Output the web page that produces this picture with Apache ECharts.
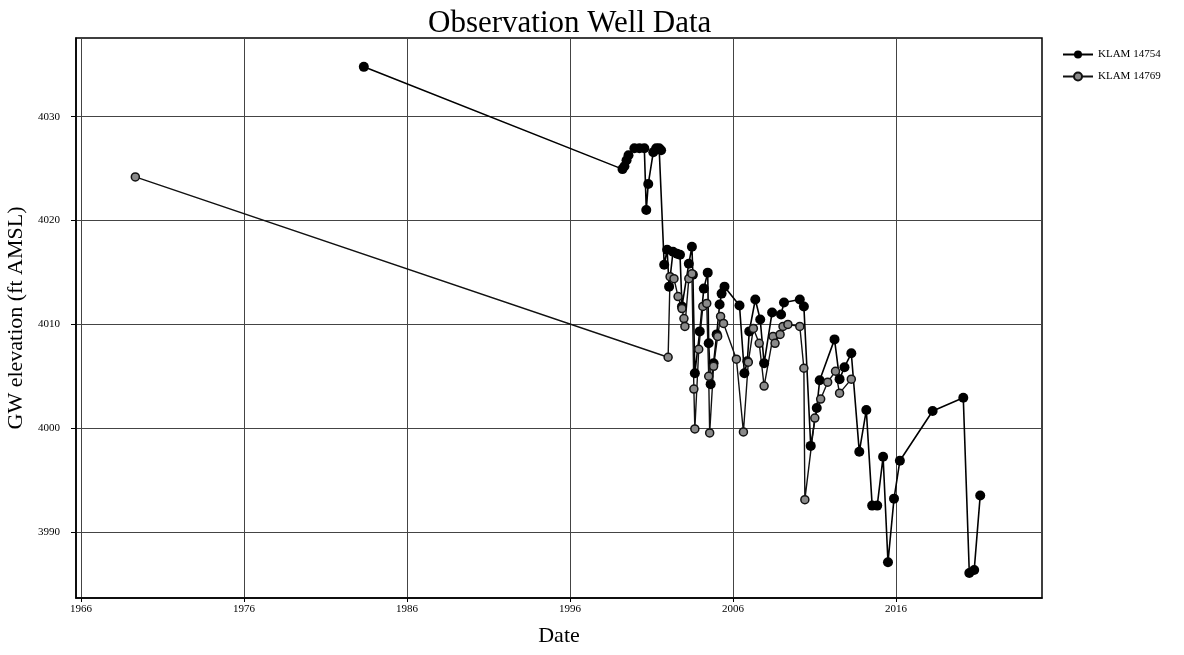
<!DOCTYPE html>
<html>
<head>
<meta charset="utf-8">
<script src="https://cdn.jsdelivr.net/npm/echarts@6/dist/echarts.min.js"></script>
<style>
  html, body { margin: 0; padding: 0; background: #fff; }
  #chart { width: 1184px; height: 655px; }
</style>
</head>
<body>
<div id="chart"></div>
<script>
// decimal year, GW elevation (ft AMSL)
var KLAM_14754 = [
  [1983.35, 4034.8], [1999.22, 4024.95], [1999.34, 4025.23], [1999.47, 4025.81],
  [1999.59, 4026.29], [1999.95, 4026.96], [2000.26, 4026.96], [2000.56, 4026.96],
  [2000.68, 4021.02], [2000.80, 4023.51], [2001.11, 4026.58], [2001.29, 4026.96],
  [2001.47, 4026.96], [2001.59, 4026.77], [2001.78, 4015.74], [2001.96, 4017.18],
  [2002.08, 4013.63], [2002.32, 4016.99], [2002.57, 4016.80], [2002.75, 4016.70],
  [2002.87, 4011.72], [2003.29, 4015.84], [2003.48, 4017.47], [2003.54, 4014.78],
  [2003.66, 4005.29], [2003.96, 4009.32], [2004.21, 4013.44], [2004.45, 4014.98],
  [2004.51, 4008.17], [2004.63, 4004.24], [2004.81, 4006.25], [2005.00, 4009.03],
  [2005.18, 4011.91], [2005.30, 4012.96], [2005.48, 4013.63], [2006.40, 4011.81],
  [2006.70, 4005.29], [2006.88, 4006.44], [2007.00, 4009.32], [2007.37, 4012.39],
  [2007.67, 4010.47], [2007.91, 4006.25], [2008.40, 4011.14], [2008.95, 4010.95],
  [2009.13, 4012.10], [2010.10, 4012.39], [2010.35, 4011.72], [2010.77, 3998.29],
  [2011.14, 4001.94], [2011.32, 4004.62], [2012.23, 4008.55], [2012.54, 4004.72],
  [2012.84, 4005.87], [2013.26, 4007.21], [2013.75, 3997.72], [2014.18, 4001.74],
  [2014.54, 3992.54], [2014.85, 3992.54], [2015.21, 3997.24], [2015.51, 3987.08],
  [2015.88, 3993.21], [2016.24, 3996.86], [2018.25, 4001.65], [2020.13, 4002.92],
  [2020.50, 3986.05], [2020.80, 3986.33], [2021.17, 3993.52]
];

var KLAM_14769 = [
  [1969.33, 4024.2], [2002.02, 4006.83], [2002.14, 4014.59], [2002.38, 4014.40],
  [2002.63, 4012.67], [2002.87, 4011.52], [2002.99, 4010.56], [2003.05, 4009.80],
  [2003.29, 4014.40], [2003.48, 4014.88], [2003.60, 4003.76], [2003.66, 3999.92],
  [2003.90, 4007.60], [2004.15, 4011.72], [2004.39, 4012.01], [2004.51, 4005.00],
  [2004.57, 3999.54], [2004.81, 4005.96], [2005.06, 4008.84], [2005.24, 4010.76],
  [2005.42, 4010.09], [2006.21, 4006.64], [2006.64, 3999.64], [2006.94, 4006.35],
  [2007.25, 4009.61], [2007.61, 4008.17], [2007.91, 4004.05], [2008.46, 4008.84],
  [2008.58, 4008.17], [2008.89, 4009.03], [2009.07, 4009.80], [2009.37, 4009.99],
  [2010.10, 4009.80], [2010.35, 4005.77], [2010.41, 3993.11], [2011.02, 4000.97],
  [2011.38, 4002.80], [2011.81, 4004.43], [2012.29, 4005.48], [2012.54, 4003.37],
  [2013.26, 4004.72]
];

var xTicks = [1966, 1976, 1986, 1996, 2006, 2016];
var yTicks = [3990, 4000, 4010, 4020, 4030];

var FONT = '"Liberation Serif", "DejaVu Serif", serif';

var chart = echarts.init(document.getElementById('chart'));
chart.setOption({
  backgroundColor: '#fff',
  animation: false,
  title: {
    text: 'Observation Well Data',
    left: 423,
    top: 3,
    textStyle: { fontFamily: FONT, fontSize: 31, fontWeight: 'normal', color: '#000' }
  },
  legend: {
    orient: 'vertical',
    left: 1057,
    top: 44,
    itemGap: 11,
    itemWidth: 30,
    itemHeight: 10,
    textStyle: { fontFamily: FONT, fontSize: 11, color: '#000' },
    data: ['KLAM 14754', 'KLAM 14769']
  },
  grid: {
    left: 76, right: 142, top: 38, bottom: 57,
    outerBoundsMode: 'none',
    show: true, borderColor: '#000', borderWidth: 1.5
  },
  xAxis: {
    type: 'value',
    min: 1965.69,
    max: 2024.96,
    name: 'Date',
    nameLocation: 'middle',
    nameGap: 27,
    nameTextStyle: { fontFamily: FONT, fontSize: 22, color: '#000' },
    axisLine: { lineStyle: { color: '#000', width: 1.5 } },
    axisTick: { customValues: xTicks, length: 4, lineStyle: { color: '#000' } },
    axisLabel: {
      customValues: xTicks, fontFamily: FONT, fontSize: 11, color: '#000', margin: 6,
      formatter: function (v) { return String(v); }
    },
    splitLine: { show: true, lineStyle: { color: '#444', width: 1 } }
  },
  yAxis: {
    type: 'value',
    min: 3983.64,
    max: 4037.58,
    name: 'GW elevation (ft AMSL)',
    nameLocation: 'middle',
    nameGap: 44,
    nameTextStyle: { fontFamily: FONT, fontSize: 22, color: '#000' },
    axisLine: { show: true, lineStyle: { color: '#000', width: 1.5 } },
    axisTick: { show: true, customValues: yTicks, length: 5, lineStyle: { color: '#000' } },
    axisLabel: {
      customValues: yTicks, fontFamily: FONT, fontSize: 11, color: '#000', margin: 16,
      formatter: function (v) { return String(v); }
    },
    splitLine: { show: true, lineStyle: { color: '#444', width: 1 } }
  },
  series: [
    {
      name: 'KLAM 14754',
      type: 'line',
      data: KLAM_14754,
      symbol: 'circle',
      symbolSize: 10,
      showAllSymbol: true,
      itemStyle: { color: '#000' },
      lineStyle: { color: '#000', width: 1.6 }
    },
    {
      name: 'KLAM 14769',
      type: 'line',
      data: KLAM_14769,
      symbol: 'circle',
      symbolSize: 8,
      showAllSymbol: true,
      itemStyle: { color: '#8a8a8a', borderColor: '#111', borderWidth: 1.5 },
      lineStyle: { color: '#111', width: 1.4 }
    }
  ]
});
</script>
</body>
</html>
